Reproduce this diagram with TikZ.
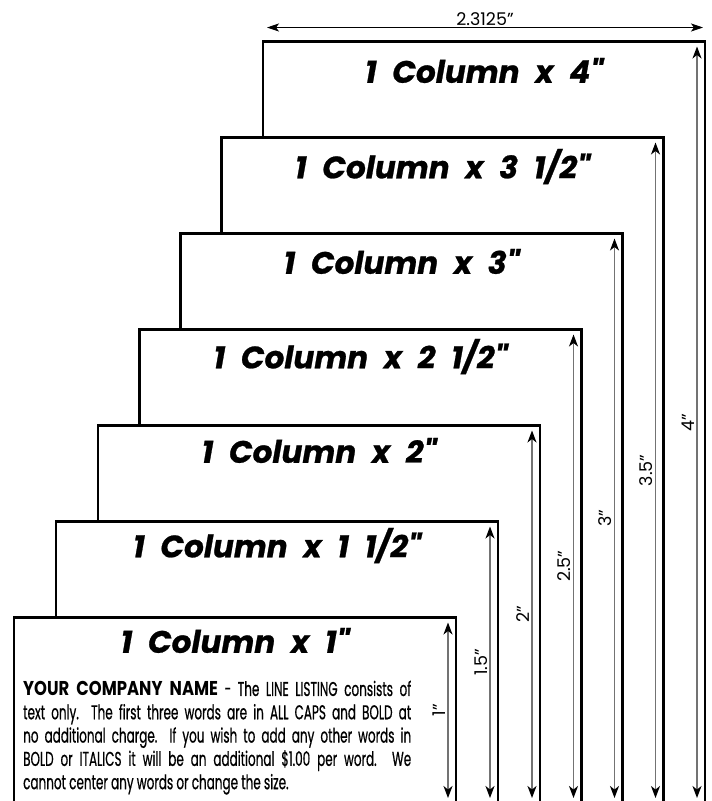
\documentclass[tikz,border=0pt]{standalone}
\usepackage{fontspec}
\usepackage{tikz}
\usetikzlibrary{positioning,arrows.meta}
\newfontfamily\titlefont[WordSpace=2.2, FakeBold=0.8]{Poppins}
\newfontfamily\dimfont{Poppins}
\newfontfamily\bodyfont[FakeStretch=0.6, FakeBold=0.6]{Poppins}
\newfontfamily\bodyboldfont[FakeStretch=0.82]{Poppins}
\tikzset{
    ad box/.style={rectangle, draw, line width=2.6pt, fill=white, inner sep=0pt, outer sep=0pt, minimum width=442pt, anchor=north west},
    ad title/.style={font=\titlefont\bfseries\itshape\fontsize{31}{34}\selectfont, inner sep=0pt},
    ad body/.style={font=\bodyfont\fontsize{20}{23.3}\selectfont, text width=388pt, align=justify, inner sep=0pt, anchor=north west},
    height arrow/.style={{Stealth[length=12pt,width=9pt,inset=3.5pt,color=black]}-{Stealth[length=12pt,width=9pt,inset=3.5pt,color=black]}, draw=black!55, line width=1.4pt},
    width arrow/.style={{Stealth[length=12pt,width=8pt,inset=3pt]}-{Stealth[length=12pt,width=8pt,inset=3pt]}, line width=0.9pt},
    dim label/.style={font=\dimfont\fontsize{17.5}{19}\selectfont, inner sep=2pt}
}

\begin{document}
\begin{tikzpicture}[x=1pt, y=-1pt]
\useasboundingbox (0,0) rectangle (712,801);

% 4 inch
\node[ad box, minimum height=762.5pt] (box7) at (263,41.5) {};
\node[ad title] (title7) at ([yshift=-29pt]box7.north) {1 Column x 4"};
\draw[height arrow] ([xshift=-8pt,yshift=-5pt]box7.north east) -- node[dim label, rotate=90, anchor=south] {4”} ([xshift=-8pt,yshift=6pt]box7.south east);
\draw[width arrow] ([xshift=4pt,yshift=14pt]box7.north west) -- node[dim label, above=-1pt] {2.3125”} ([xshift=-2pt,yshift=14pt]box7.north east);

% 3 1/2 inch
\node[ad box, minimum height=666.5pt] (box6) at (221.5,137.5) {};
\node[ad title] (title6) at ([yshift=-29pt]box6.north) {1 Column x 3 1/2"};
\draw[height arrow] ([xshift=-8pt,yshift=-5pt]box6.north east) -- node[dim label, rotate=90, anchor=south] {3.5”} ([xshift=-8pt,yshift=6pt]box6.south east);

% 3 inch
\node[ad box, minimum height=570.5pt] (box5) at (180.5,233.5) {};
\node[ad title] (title5) at ([yshift=-28pt]box5.north) {1 Column x 3"};
\draw[height arrow] ([xshift=-8pt,yshift=-5pt]box5.north east) -- node[dim label, rotate=90, anchor=south] {3”} ([xshift=-8pt,yshift=6pt]box5.south east);

% 2 1/2 inch
\node[ad box, minimum height=474.5pt] (box4) at (139.5,329.5) {};
\node[ad title] (title4) at ([yshift=-27pt]box4.north) {1 Column x 2 1/2"};
\draw[height arrow] ([xshift=-8pt,yshift=-5pt]box4.north east) -- node[dim label, rotate=90, anchor=south] {2.5”} ([xshift=-8pt,yshift=6pt]box4.south east);

% 2 inch
\node[ad box, minimum height=378.5pt] (box3) at (98,425.5) {};
\node[ad title] (title3) at ([yshift=-25pt]box3.north) {1 Column x 2"};
\draw[height arrow] ([xshift=-8pt,yshift=-5pt]box3.north east) -- node[dim label, rotate=90, anchor=south] {2”} ([xshift=-8pt,yshift=6pt]box3.south east);

% 1 1/2 inch
\node[ad box, minimum height=282.5pt] (box2) at (56,521.5) {};
\node[ad title] (title2) at ([yshift=-24pt]box2.north) {1 Column x 1 1/2"};
\draw[height arrow] ([xshift=-8pt,yshift=-5pt]box2.north east) -- node[dim label, rotate=90, anchor=south] {1.5”} ([xshift=-8pt,yshift=6pt]box2.south east);

% 1 inch
\node[ad box, minimum height=186.5pt] (box1) at (14,617.5) {};
\node[ad title] (title1) at ([yshift=-23pt]box1.north) {1 Column x 1"};
\node[ad body] (body1) at ([xshift=9pt,yshift=-63pt]box1.north west) {{\bodyboldfont\bfseries YOUR COMPANY NAME} - The LINE LISTING consists of\linebreak text only.\ \ The first three words are in ALL CAPS and BOLD at\linebreak no additional charge.\ \ If you wish to add any other words in\linebreak BOLD or ITALICS it will be an additional \$1.00 per word. We\linebreak cannot center any words or change the size.};
\draw[height arrow] ([xshift=-8pt,yshift=-5pt]box1.north east) -- node[dim label, rotate=90, anchor=south] {1”} ([xshift=-8pt,yshift=6pt]box1.south east);
\end{tikzpicture}
\end{document}
